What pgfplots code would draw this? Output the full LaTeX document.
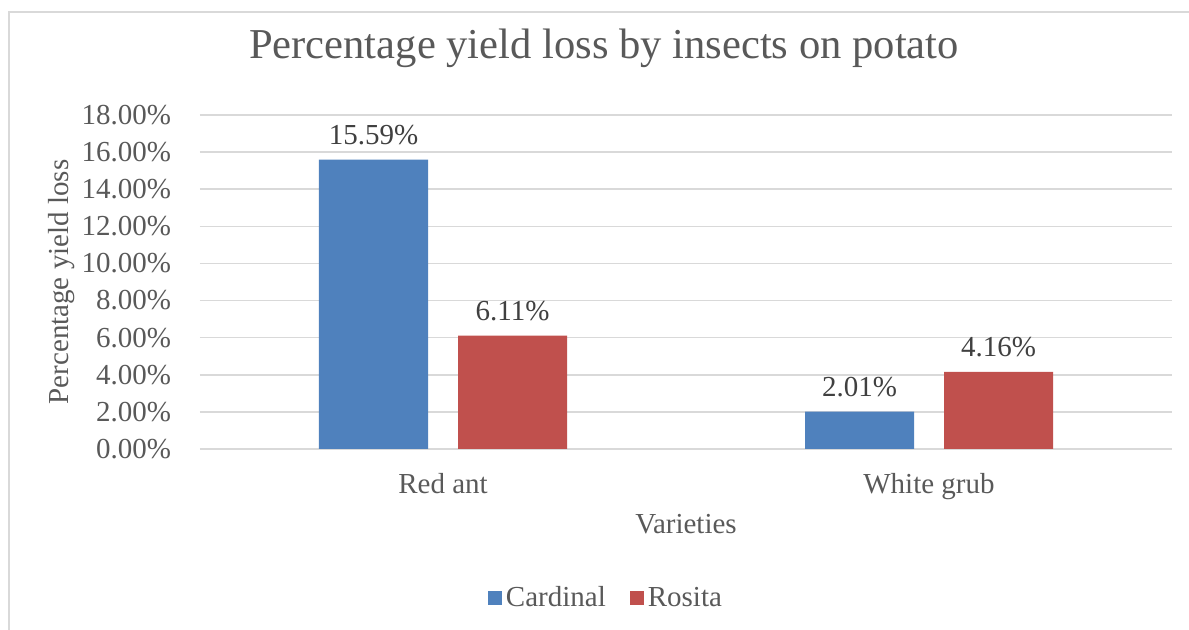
\documentclass[border=0pt]{standalone}
\usepackage{pgfplots}
\pgfplotsset{compat=1.18}
\usepackage{fontspec}
\setmainfont{Liberation Serif}
\definecolor{cblue}{HTML}{4F81BD}
\definecolor{cred}{HTML}{C0504D}
\definecolor{gridc}{HTML}{D9D9D9}
\definecolor{txt}{HTML}{595959}
\definecolor{dtxt}{HTML}{404040}
\begin{document}
\begin{tikzpicture}
\useasboundingbox (0,0) rectangle (594.5pt,315pt);
\draw[gridc, line width=0.8pt] (4.5pt,0) -- (4.5pt,309pt) -- (594.5pt,309pt);
\begin{axis}[
  at={(100pt,90.5pt)}, anchor=south west,
  scale only axis, width=486pt, height=167pt,
  ybar=15pt, bar width=54.5pt,
  xmin=-0.5, xmax=1.5, ymin=0, ymax=18,
  xtick=data, xticklabels={Red ant, White grub},
  ytick={0,2,...,18},
  yticklabel={\pgfmathprintnumber[fixed,fixed zerofill,precision=2]{\tick}\%},
  /pgf/number format/assume math mode=true,
  major tick length=0pt,
  axis line style={draw=none},
  ymajorgrids, grid style={gridc, line width=0.8pt},
  tick label style={font=\fontsize{14.5}{17}\selectfont, text=txt},
  yticklabel style={xshift=-11pt},
  xticklabel style={yshift=-8.5pt},
  title={Percentage yield loss by insects on potato},
  title style={at={(axis description cs:0.4156,1.1647)}, anchor=center, font=\fontsize{21.3}{25}\selectfont, text=txt},
  xlabel={Varieties},
  xlabel style={at={(axis description cs:0.5,0)}, yshift=-37.5pt, anchor=center, font=\fontsize{14.5}{17}\selectfont, text=txt},
  ylabel={Percentage yield loss},
  ylabel style={at={([xshift=-69pt]axis description cs:0,0.5)}, anchor=center, font=\fontsize{14.5}{17}\selectfont, text=txt},
  nodes near coords={\pgfmathprintnumber[fixed,fixed zerofill,precision=2]{\pgfplotspointmeta}\%},
  nodes near coords style={font=\fontsize{14.5}{17}\selectfont, text=dtxt, yshift=4pt},
  legend columns=2,
  legend style={at={(axis description cs:0.4187,-0.446)}, anchor=center, draw=none, fill=none,
    font=\fontsize{14.5}{17}\selectfont, text=txt,
    /tikz/every even column/.append style={column sep=10pt}},
  legend image code/.code={\fill[#1] (0pt,-3.5pt) rectangle (7pt,3.5pt);},
]
\addplot[fill=cblue, draw=none] coordinates {(0,15.59) (1,2.01)};
\addplot[fill=cred, draw=none] coordinates {(0,6.11) (1,4.16)};
\legend{Cardinal, Rosita}
\end{axis}
\end{tikzpicture}
\end{document}
